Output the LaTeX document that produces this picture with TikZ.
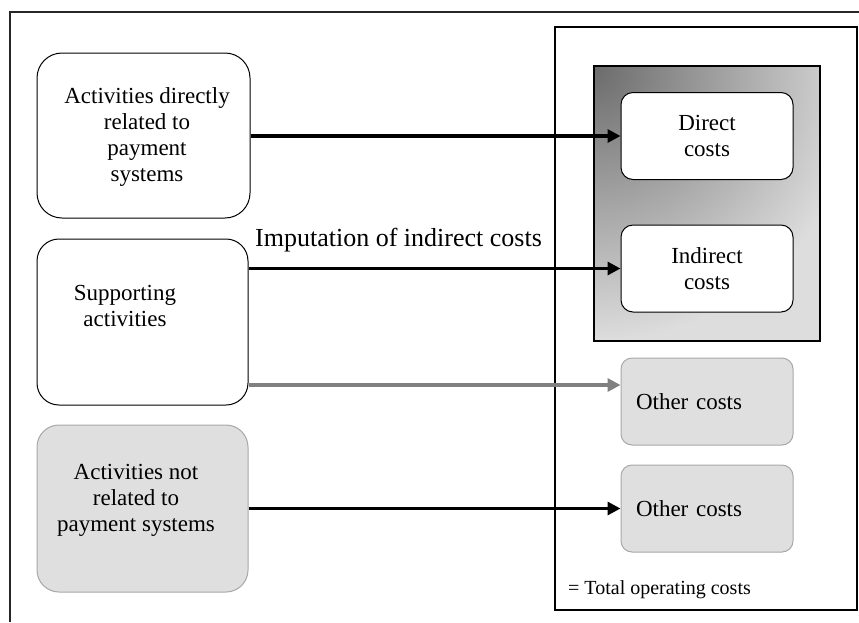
\documentclass[tikz,border=0pt]{standalone}
\usepackage{fontspec}
\setmainfont{Liberation Serif}
\usetikzlibrary{arrows.meta}
\definecolor{boxgray}{HTML}{DFDFDF}
\definecolor{edgegray}{HTML}{A8A8A8}
\definecolor{arrowgray}{HTML}{808080}
\definecolor{shadedark}{HTML}{6C6C6C}
\definecolor{shadelight}{HTML}{DDDDDD}
\begin{document}
\begin{tikzpicture}[x=1pt,y=-1pt,
  every node/.style={font=\fontsize{23}{26}\selectfont, inner sep=0pt},
  activity/.style={draw, line width=1pt, rounded corners=22pt,
    minimum width=211pt, minimum height=166pt, align=center},
  costbox/.style={draw, line width=1pt, rounded corners=12pt, fill=white,
    minimum width=172pt, minimum height=87pt, align=center},
  otherbox/.style={draw=edgegray, line width=1pt, rounded corners=11pt, fill=boxgray,
    minimum width=172pt, minimum height=87pt, text width=142pt, inner xsep=15pt, align=left},
  flow/.style={line width=3.2pt, -{Triangle[length=13pt, width=13pt]}},
  grayflow/.style={flow, draw=arrowgray, -{Triangle[length=13pt, width=13pt, fill=arrowgray]}}
]
\useasboundingbox (0,0) rectangle (859,622);
\fill[white] (0,0) rectangle (859,622);

% page frame (left and top edges)
\draw[line width=1.2pt, black!85] (10,622) -- (10,12) -- (859,12);

% column of cost categories
\node[draw, line width=1.2pt, minimum width=302pt, minimum height=583pt] (total) at (706,318.5) {};
\node[anchor=west, font=\fontsize{20}{24}\selectfont] (totallabel) at (568,590) {= Total operating costs};

% shaded group of payment-system costs, dark in the upper left corner
\node[draw, line width=2pt, minimum width=226pt, minimum height=275pt, fill=shadelight,
  path picture={\shade[inner color=shadedark, outer color=shadelight]
    ([shift={(-270pt,270pt)}]path picture bounding box.north west) rectangle
    ([shift={(270pt,-270pt)}]path picture bounding box.north west);}] (group) at (707,203.5) {};

\node[costbox] (direct) at (707,136) {Direct\\costs};
\node[costbox] (indirect) at (707,268.5) {Indirect\\costs};
\node[otherbox] (other1) at (707,401.5) {Other costs};
\node[otherbox] (other2) at (707,508.5) {Other costs};

% activities
\node[activity, rounded corners=25pt, minimum width=213pt, minimum height=165pt] (direct act) at (143.5,135.5) {};
\node (direct act text) at (147,137) [align=center] {Activities directly\\related to\\payment\\systems};
\node[activity] (support) at (142.5,322) {};
\node[align=center] (support text) at (125,306) {Supporting\\activities};
\node[activity, draw=edgegray, fill=boxgray, minimum height=167pt] (other act) at (142.5,508.5) {};
\node[align=center] (other act text) at (136,500) {Activities not\\related to\\payment systems};

% flows
\draw[flow] (direct act.east |- direct.west) -- (direct.west);
\draw[flow] (support.east |- indirect.west) -- (indirect.west);
\node[anchor=west, font=\fontsize{26}{30}\selectfont] (imputation) at (255,240) {Imputation of indirect costs};
\coordinate (supportlow) at ([yshift=-63pt]support.east);
\draw[grayflow] (supportlow) -- (supportlow -| other1.west);
\draw[flow] (other act.east |- other2.west) -- (other2.west);
\end{tikzpicture}
\end{document}
